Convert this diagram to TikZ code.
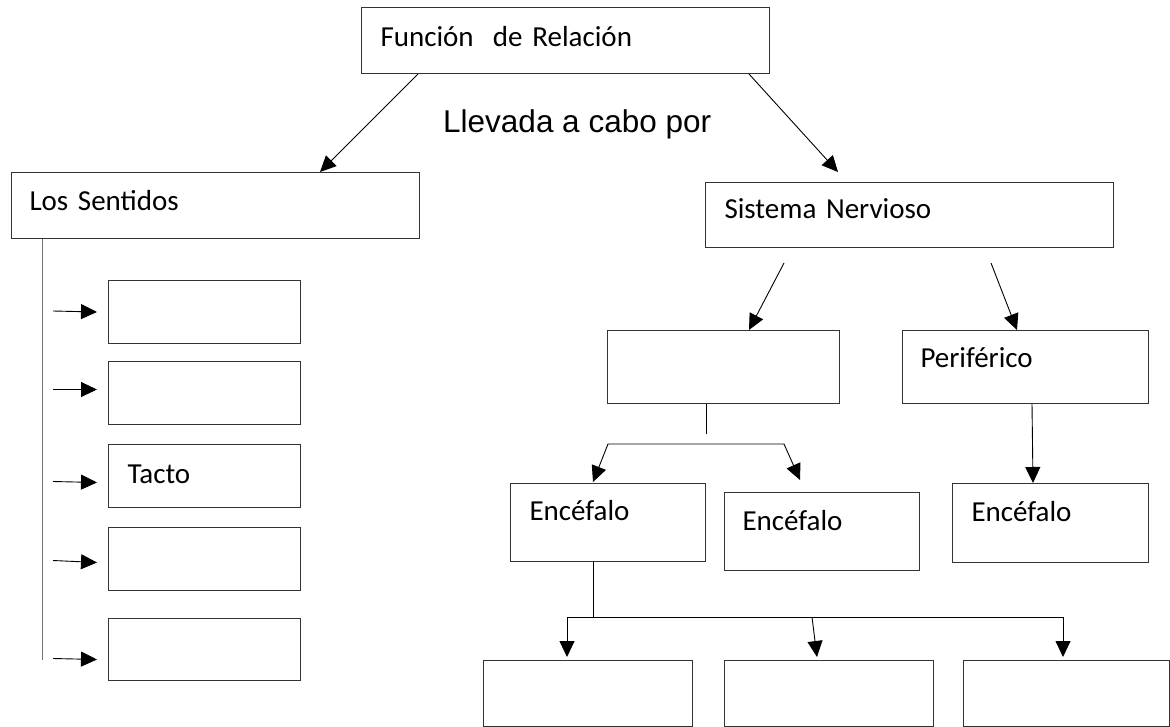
\documentclass[tikz,border=0pt]{standalone}
\usepackage{fontspec}
\setmainfont{Carlito}
\newfontfamily\arialf{Liberation Sans}
\usetikzlibrary{arrows.meta}
\tikzset{
  bx/.style={draw=black!80, line width=1pt, anchor=north west, inner ysep=0pt, align=left,
    font=\fontsize{29}{34}\selectfont},
  ebx/.style={draw=black!80, line width=1pt, anchor=north west, inner sep=0pt},
  conn/.style={draw=black, line width=0.9pt},
  arr/.style={conn, -{Triangle[length=16pt,width=15pt]}},
  arrb/.style={conn, {Triangle[length=16pt,width=15pt]}-{Triangle[length=16pt,width=15pt]}},
}
\begin{document}
\begin{tikzpicture}[x=1pt,y=-1pt]
\useasboundingbox (0,0) rectangle (1170,727);
% top
\node[bx, inner xsep=19pt, text width=370pt, text height=39pt, text depth=27pt] (fr) at (361,7) {Función\ \ de Relación};
\node[anchor=base west, inner sep=0pt, font=\arialf\fontsize{31.5}{36}\selectfont] (lab) at (443,133) {Llevada a cabo por};
% left branch
\node[bx, inner xsep=18pt, text width=372pt, text height=38pt, text depth=28pt] (ls) at (11,172) {Los Sentidos};
\node[ebx, minimum width=192pt, minimum height=63pt] (b1) at (108,280) {};
\node[ebx, minimum width=192pt, minimum height=63pt] (b2) at (108,361) {};
\node[bx, inner xsep=19pt, text width=154pt, text height=39pt, text depth=24pt] (b3) at (108,444) {Tacto};
\node[ebx, minimum width=192pt, minimum height=63pt] (b4) at (108,527) {};
\node[ebx, minimum width=192pt, minimum height=62pt] (b5) at (108,618) {};
% right branch
\node[bx, inner xsep=19pt, text width=370pt, text height=36pt, text depth=29pt] (sn) at (705,182) {Sistema Nervioso};
\node[ebx, minimum width=232pt, minimum height=73pt] (mid) at (607,330) {};
\node[bx, inner xsep=18pt, text width=210pt, text height=37pt, text depth=36pt] (per) at (902,330) {Periférico};
\node[bx, inner xsep=19pt, text width=157pt, text height=37pt, text depth=41pt] (e1) at (510,483) {Encéfalo};
\node[bx, inner xsep=18pt, text width=159pt, text height=38pt, text depth=40pt] (e2) at (724,492) {Encéfalo};
\node[bx, inner xsep=19pt, text width=158pt, text height=38pt, text depth=41pt] (e3) at (952,483) {Encéfalo};
\node[ebx, minimum width=209pt, minimum height=66pt] (ba) at (483,660) {};
\node[ebx, minimum width=209pt, minimum height=66pt] (bb) at (724,660) {};
\node[ebx, minimum width=206pt, minimum height=66pt] (bc) at (963,660) {};
% free-end coordinates
\coordinate (lvend) at (42,660);
\coordinate (midend) at (706,434);
\coordinate (brl) at (608,444);
\coordinate (brr) at (784,444);
\coordinate (ej) at (593,617);
\coordinate (hl) at (567,617);
\coordinate (hm) at (812,617);
\coordinate (hr) at (1063,617);
% connectors top
\draw[arr] ([xshift=57pt]fr.south west) -- ([xshift=309pt]ls.north west);
\draw[arr] ([xshift=388pt]fr.south west) -- ([xshift=133pt,yshift=10pt]sn.north west);
% left column
\draw[conn, draw=black!55] ([xshift=31pt]ls.south west) -- (lvend);
\draw[arr] ([xshift=-55pt,yshift=1pt]b1.west) -- ([xshift=-11pt]b1.west);
\draw[arr] ([xshift=-55pt,yshift=3.5pt]b2.west) -- ([xshift=-11pt,yshift=3.5pt]b2.west);
\draw[arr] ([xshift=-55pt,yshift=-5.5pt]b3.west) -- ([xshift=-11pt,yshift=-6.5pt]b3.west);
\draw[arr] ([xshift=-55pt,yshift=-1.5pt]b4.west) -- ([xshift=-11pt,yshift=-3.5pt]b4.west);
\draw[arr] ([xshift=-55pt,yshift=-9pt]b5.west) -- ([xshift=-11pt,yshift=-10pt]b5.west);
% right side
\draw[arr] ([xshift=79pt,yshift=-15pt]sn.south west) -- ([xshift=142pt]mid.north west);
\draw[arr] ([xshift=286pt,yshift=-15pt]sn.south west) -- ([xshift=115pt]per.north west);
\draw[conn] ([xshift=99pt]mid.south west) -- (midend);
\draw[arrb] ([xshift=83pt,yshift=1pt]e1.north west) -- (brl) -- (brr) -- ([xshift=76pt,yshift=12pt]e2.north west);
\draw[arr] ([xshift=130pt]per.south west) -- ([xshift=81pt]e3.north west);
\draw[conn] ([xshift=83pt]e1.south west) -- (ej);
\draw[conn] (hl) -- (hr);
\draw[arr] (hl) -- ([xshift=84pt,yshift=3pt]ba.north west);
\draw[arr] (hm) -- ([xshift=93pt,yshift=3pt]bb.north west);
\draw[arr] (hr) -- ([xshift=100pt,yshift=3pt]bc.north west);
\end{tikzpicture}
\end{document}
